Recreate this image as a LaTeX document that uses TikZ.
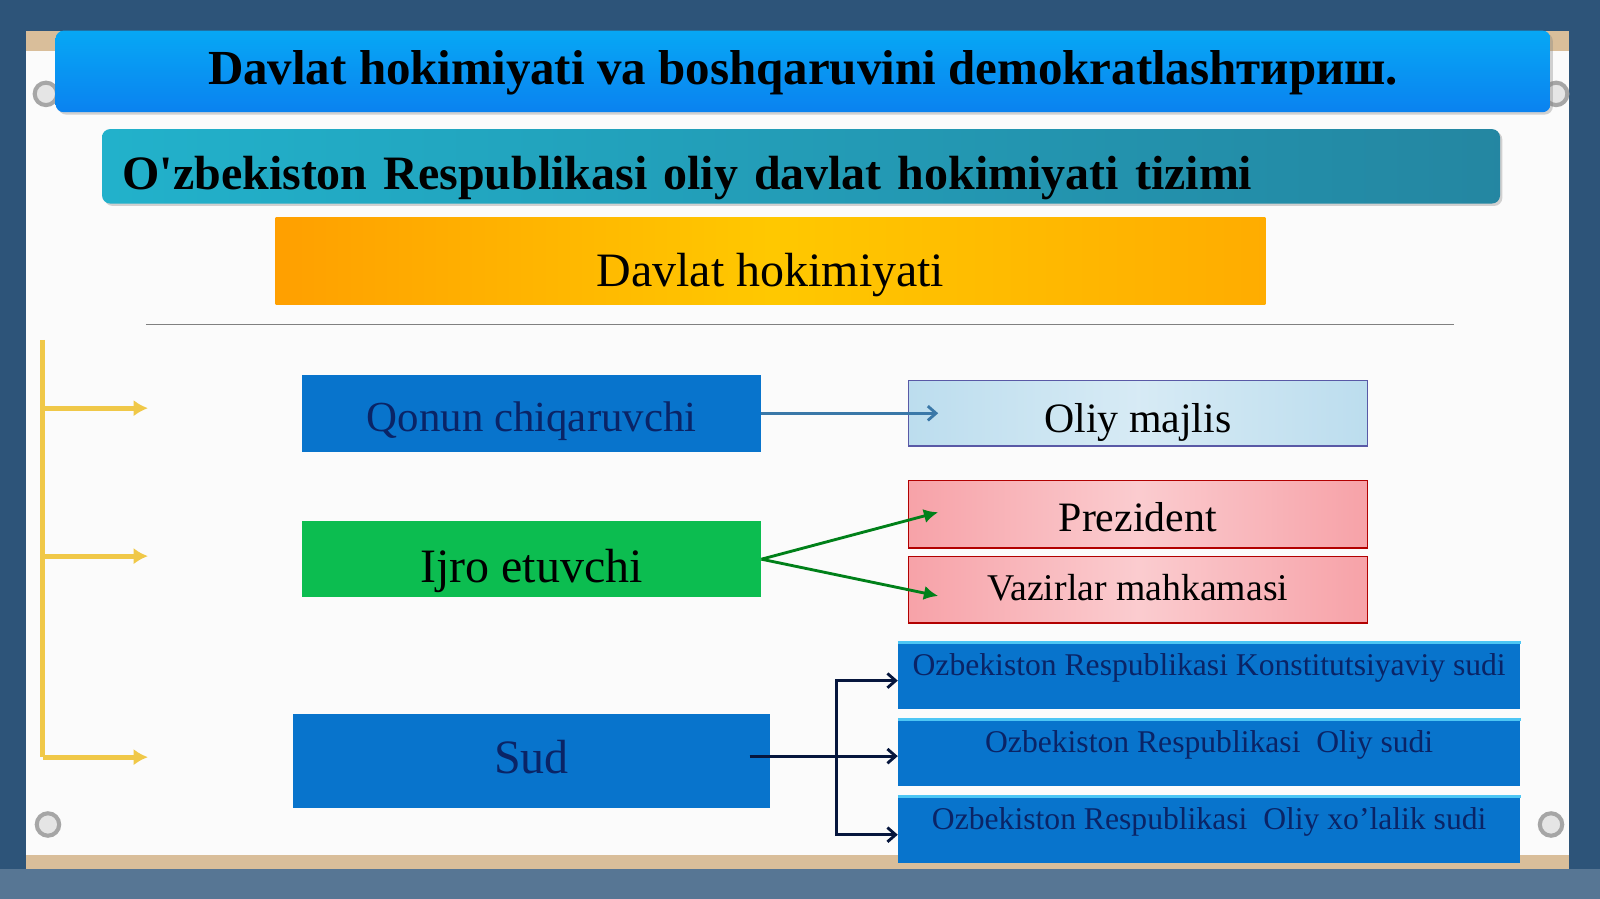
\documentclass[tikz,border=0pt]{standalone}
\usepackage{fontspec}
\setmainfont{Liberation Serif}
\usetikzlibrary{shadows,arrows.meta}

\definecolor{boardbg}{HTML}{2D5479}
\definecolor{titleblue}{HTML}{0A82F0}
\definecolor{tealbar}{HTML}{2A9EBE}
\definecolor{boxblue}{HTML}{0874CC}
\definecolor{boxgreen}{HTML}{0CBD50}
\definecolor{navytext}{HTML}{0A2466}
\definecolor{bracket}{HTML}{F0C848}
\definecolor{pinkbox}{HTML}{F7A2A8}
\definecolor{skybox}{HTML}{BCDDEE}
\definecolor{boardtan}{HTML}{D9BE9A}
\definecolor{steel}{HTML}{3A78A8}
\definecolor{gold}{HTML}{FFC800}

\begin{document}
\begin{tikzpicture}[x=1pt,y=-1pt,
			bar/.style = {rectangle,rounded corners=8,inner sep=0,drop shadow={opacity=.35}},
			branch/.style = {rectangle,inner sep=0,minimum width=450,minimum height=75},
			organ/.style = {rectangle,draw,line width=1.2,inner sep=0,minimum width=450},
			court/.style = {rectangle,fill=boxblue,inner sep=0,minimum width=610,minimum height=65,
				text depth=22pt,text=navytext,font=\fontsize{31}{33}\selectfont},
			lower/.style = {text depth=0pt,text height=#1},
			link/.style = {-{Straight Barb[length=8,width=14]},line width=2.8}]

\useasboundingbox (0,0) rectangle (1568,881);
\fill[boardbg] (0,0) rectangle (1568,881);
\fill[boardbg!80!white] (0,852) rectangle (1568,881);
\fill[white!97!gray] (25,30) rectangle (1538,852);
\fill[boardtan] (25,838) rectangle (1538,852);
\fill[boardtan] (25,30) rectangle (60,50);
\fill[boardtan] (1500,30) rectangle (1538,50);

\foreach \sx/\sy in {45/92,1525/92,47/808,1520/808}
	\draw[gray!70,line width=4,fill=gray!20] (\sx,\sy) circle (11);

\node[bar,top color=titleblue!70!cyan,bottom color=titleblue,minimum width=1465,minimum height=80,lower=26pt,
	font=\bfseries\fontsize{48}{50}\selectfont] (title) at (787,70) {Davlat hokimiyati va boshqaruvini demokratlashтириш.};
\node[bar,left color=tealbar!80!cyan,right color=tealbar!85!black,minimum height=73,text width=1330,inner xsep=20,align=left,
	lower=46pt,font=\bfseries\fontsize{47}{49}\selectfont] (tizim) at (785,163) {O\textquotesingle zbekiston Respublikasi oliy davlat hokimiyati tizimi};
\node[rectangle,left color=orange!75!yellow,right color=orange!65!yellow,middle color=gold,inner sep=0,
	minimum width=970,minimum height=85,lower=50pt,font=\fontsize{47}{49}\selectfont] (davlat) at (755,256) {Davlat hokimiyati};

\draw[gray,line width=1.2] (143,318) -- (1425,318);

\node[branch,fill=boxblue,text=navytext,lower=36pt,font=\fontsize{42}{44}\selectfont] (qonun) at (521,405) {Qonun chiqaruvchi};
\node[branch,fill=boxgreen,lower=46pt,font=\fontsize{47}{49}\selectfont] (ijro) at (521,548) {Ijro etuvchi};
\node[branch,fill=boxblue,text=navytext,minimum width=467,minimum height=92,lower=24pt,
	font=\fontsize{47}{49}\selectfont] (sud) at (521,746) {Sud};

\node[organ,draw=gray!70!blue,left color=skybox,right color=skybox,middle color=skybox!60!white,minimum height=64,
	lower=38pt,font=\fontsize{41}{43}\selectfont] (majlis) at (1115,405) {Oliy majlis};
\node[organ,draw=red!70!black,left color=pinkbox,right color=pinkbox,middle color=pinkbox!55!white,minimum height=66,
	lower=34pt,font=\fontsize{41}{43}\selectfont] (prezident) at (1115,504) {Prezident};
\node[organ,draw=red!70!black,left color=pinkbox,right color=pinkbox,middle color=pinkbox!55!white,minimum height=65,
	lower=20pt,font=\fontsize{37}{39}\selectfont] (vazirlar) at (1115,578) {Vazirlar mahkamasi};

\node[court] (konst) at (1185,662) {Ozbekiston Respublikasi Konstitutsiyaviy sudi};
\node[court] (oliysud) at (1185,738) {Ozbekiston Respublikasi~ Oliy sudi};
\node[court] (xolalik) at (1185,813) {Ozbekiston Respublikasi~ Oliy xo'lalik sudi};
\foreach \c in {konst,oliysud,xolalik}
	\draw[cyan!70!white,line width=3] (\c.north west) -- (\c.north east);

\coordinate (btop) at (42,333);
\coordinate (bbot) at (42,742);
\coordinate (b1) at (145,400);
\coordinate (b2) at (145,545);
\coordinate (b3) at (145,742);
\draw[bracket,line width=5] (btop) -- (bbot);
\foreach \b in {b1,b2,b3}
	\draw[bracket,line width=5,-{Latex[length=14,width=16]}] (btop |- \b) -- (\b);

\draw[link,steel] (qonun.east) -- ([xshift=30]majlis.west |- qonun.east);
\draw[link,green!50!black!80!teal,-{Latex[length=14,width=14]}] (ijro.east) -- ([xshift=30,yshift=2]prezident.west);
\draw[link,green!50!black!80!teal,-{Latex[length=14,width=14]}] (ijro.east) -- ([xshift=30,yshift=-6]vazirlar.west);

\coordinate (fork) at (820,741);
\draw[link,navytext!60!black,-] ([xshift=-20]sud.east |- fork) -- (fork);
\draw[link,navytext!60!black] (fork) -- (oliysud.west |- fork);
\draw[link,navytext!60!black] (fork) |- ([yshift=-5]konst.west);
\draw[link,navytext!60!black] (fork) |- ([yshift=-5]xolalik.west);

\end{tikzpicture}
\end{document}
